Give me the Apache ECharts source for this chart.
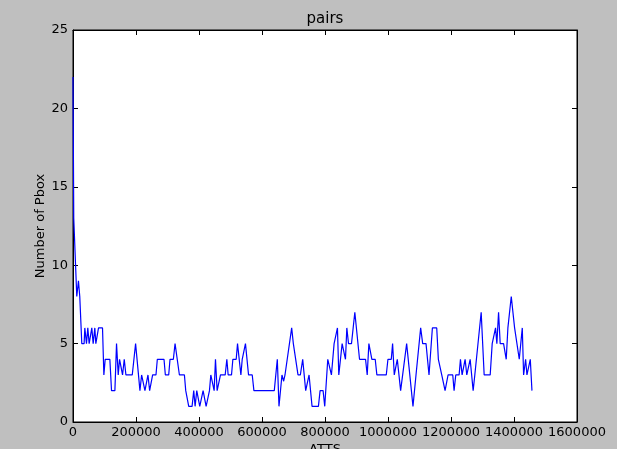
<!DOCTYPE html>
<html>
<head>
<meta charset="utf-8">
<script src="https://cdn.jsdelivr.net/npm/echarts@6/dist/echarts.min.js"></script>
<style>
  html, body { margin: 0; padding: 0; background: #bfbfbf; }
  #chart { width: 617px; height: 449px; }
</style>
</head>
<body>
<div id="chart"></div>
<script>
// vertices of the line (x position, number of Pbox)
const xValues = [
  0, 2400, 12000, 17300, 21500, 27900, 35300, 37500, 42800, 44900, 47000, 51300, 57600, 59700,
  64000, 67200, 69300, 72500, 77800, 81000, 93700, 98000, 102200, 117000, 122300, 133000,
  138200, 143600, 147800, 153100, 157300, 162700, 168000, 188100, 198700, 212500, 217800,
  223100, 228400, 233700, 238000, 243300, 248600, 252800, 263400, 267700, 288900, 293200,
  303800, 308000, 318600, 324000, 328200, 337800, 353700, 357900, 363200, 367400, 378000,
  383300, 387600, 392900, 398200, 402400, 407700, 413000, 418400, 422600, 427900, 433200,
  437500, 442800, 448100, 452300, 457600, 462900, 468200, 483100, 488400, 492600, 503200,
  507500, 518100, 522300, 527600, 533000, 537200, 542500, 547500, 552000, 557300, 569000,
  574300, 639000, 648600, 653900, 663400, 668700, 673000, 678300, 694200, 699500, 704800,
  714300, 721800, 729200, 738700, 744100, 749400, 758900, 779100, 784400, 793900, 799200,
  808800, 815100, 820400, 823600, 828900, 834200, 839500, 843800, 854400, 859700, 865000,
  869300, 874600, 884100, 894700, 909600, 928700, 934000, 939300, 944600, 948800, 959400,
  964700, 994500, 999800, 1010400, 1014600, 1019900, 1024200, 1029500, 1040100, 1045400,
  1059200, 1064500, 1079300, 1088900, 1094200, 1103700, 1110100, 1120700, 1130200, 1140900,
  1154700, 1159900, 1165300, 1170600, 1175900, 1181200, 1186500, 1190700, 1205600, 1209800,
  1215100, 1225700, 1230000, 1235300, 1240600, 1244800, 1250100, 1255400, 1260800, 1266100,
  1270300, 1275600, 1280900, 1295800, 1305300, 1324400, 1330800, 1335000, 1341400, 1345600,
  1351000, 1356200, 1366900, 1375300, 1380600, 1386000, 1391300, 1396600, 1401900, 1407200,
  1416700, 1426300, 1430500, 1436900, 1441100, 1446400, 1451700, 1457000
];
const pboxValues = [
  22, 13, 8, 9, 8, 5, 5, 6, 5, 5, 6, 5, 5, 6,
  5, 5, 6, 5, 5, 6, 6, 3, 4, 4, 2, 2,
  5, 3, 4, 4, 3, 4, 3, 3, 5, 2, 3,
  3, 2, 2, 3, 2, 2, 3, 3, 4, 4, 3,
  3, 4, 4, 5, 5, 3, 3, 2, 2, 1, 1,
  2, 1, 2, 2, 1, 1, 2, 2, 1, 1, 2,
  3, 3, 2, 4, 2, 2, 3, 3, 4, 3, 3,
  4, 4, 5, 5, 3, 4, 4, 5, 5, 3, 3,
  2, 2, 4, 1, 3, 2.6, 3, 3, 6, 5, 5,
  3, 3, 4, 2, 2, 3, 1, 1, 2, 2, 1,
  4, 4, 3, 3, 5, 5, 6, 3, 5, 5, 4,
  6, 5, 5, 7, 4, 4, 3, 5, 5, 4, 4,
  3, 3, 4, 4, 5, 3, 3, 4, 2, 2,
  5, 5, 1, 3, 3, 6, 5, 5, 3, 6,
  6, 4, 4, 3, 3, 2, 2, 3, 3, 2,
  3, 3, 4, 3, 3, 4, 3, 3, 4, 4,
  2, 3, 3, 7, 3, 3, 5, 5, 6, 5,
  7, 5, 5, 4, 6, 6, 8, 8, 6, 6,
  4, 6, 3, 4, 3, 3, 4, 2
];
const xTicks = [0, 200000, 400000, 600000, 800000, 1000000, 1200000, 1400000, 1600000];
const yTicks = [0, 5, 10, 15, 20, 25];

const font = 'DejaVu Sans';
const lineData = xValues.map((x, i) => [x, pboxValues[i]]);

const chart = echarts.init(document.getElementById('chart'), null, { renderer: 'canvas' });

const tickStyle = { show: true, inside: true, length: 5, lineStyle: { color: '#000', width: 1 } };
const frameLine = { show: true, onZero: false, lineStyle: { color: '#000', width: 1 } };

chart.setOption({
  backgroundColor: '#bfbfbf',
  animation: false,
  graphic: [
    {
      type: 'text', x: 325, y: 19,
      style: {
        text: 'pairs', fill: '#000', font: '15px "DejaVu Sans"',
        textAlign: 'center', textVerticalAlign: 'middle'
      }
    }
  ],
  grid: {
    left: 73, right: 40, top: 30, bottom: 27,
    outerBoundsMode: 'none', containLabel: false,
    show: true, backgroundColor: '#fff', borderColor: '#000', borderWidth: 1
  },
  xAxis: [
    {
      type: 'value',
      min: xTicks[0], max: xTicks[xTicks.length - 1], interval: 200000,
      name: 'ATTS', nameLocation: 'middle', nameGap: 21, nameMoveOverlap: false,
      nameTextStyle: { fontFamily: font, fontSize: 13, color: '#000' },
      axisLine: frameLine,
      axisTick: tickStyle,
      splitLine: { show: false },
      axisLabel: { fontFamily: font, fontSize: 13, color: '#000', margin: 4, formatter: v => String(v) }
    },
    {
      type: 'value', position: 'top',
      min: xTicks[0], max: xTicks[xTicks.length - 1], interval: 200000,
      axisLine: frameLine,
      axisTick: tickStyle, axisLabel: { show: false }, splitLine: { show: false }
    }
  ],
  yAxis: [
    {
      type: 'value',
      min: yTicks[0], max: yTicks[yTicks.length - 1], interval: 5,
      name: 'Number of Pbox', nameLocation: 'middle', nameGap: 26, nameMoveOverlap: false,
      nameTextStyle: { fontFamily: font, fontSize: 13, color: '#000' },
      axisLine: frameLine,
      axisTick: tickStyle,
      splitLine: { show: false },
      axisLabel: { fontFamily: font, fontSize: 13, color: '#000', margin: 5 }
    },
    {
      type: 'value', position: 'right',
      min: yTicks[0], max: yTicks[yTicks.length - 1], interval: 5,
      axisLine: frameLine,
      axisTick: tickStyle, axisLabel: { show: false }, splitLine: { show: false }
    }
  ],
  series: [
    {
      type: 'line',
      data: lineData,
      showSymbol: false,
      symbol: 'none',
      lineStyle: { color: '#0000ff', width: 1.2 },
      clip: true
    }
  ]
});
</script>
</body>
</html>
